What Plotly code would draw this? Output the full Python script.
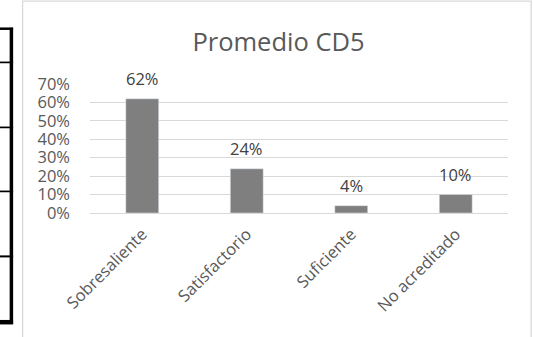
import plotly.graph_objects as go

categories = ["Sobresaliente", "Satisfactorio", "Suficiente", "No acreditado"]
values = [0.62, 0.24, 0.04, 0.10]
labels = ["62%", "24%", "4%", "10%"]
title_text = "Promedio CD5"

W, H = 533, 337
L, R, T, B = 90, 533 - 508.5, 84.3, 337 - 213.3
pw, ph = W - L - R, H - T - B

def px(x):
    return (x - L) / pw

def py(y):
    return (H - B - y) / ph

fig = go.Figure(go.Bar(x=categories, y=values, marker_color="#7f7f7f", cliponaxis=False))

for c, v, t in zip(categories, values, labels):
    fig.add_annotation(x=c, y=v, text=t, showarrow=False, yanchor="middle", yshift=20.5,
                       font=dict(family="Open Sans", size=16.5, color="#404040"))

shapes = []
# chart border
shapes.append(dict(type="rect", xref="paper", yref="paper",
                   x0=px(22.5), x1=px(531.7), y0=py(1.5), y1=py(345),
                   line=dict(color="#d9d9d9", width=1.3), layer="below"))
# table fragment at left
shapes.append(dict(type="line", xref="paper", yref="paper",
                   x0=px(11.3), x1=px(11.3), y0=py(28), y1=py(324),
                   line=dict(color="black", width=3.5)))
for yy, w in [(29, 2.5), (62.7, 1.7), (127.7, 1.7), (191.7, 1.7), (256.7, 2), (322.5, 4.5)]:
    shapes.append(dict(type="line", xref="paper", yref="paper",
                       x0=px(-2), x1=px(13), y0=py(yy), y1=py(yy),
                       line=dict(color="black", width=w)))

fig.update_layout(
    width=W, height=H, autosize=False,
    margin=dict(l=L, r=R, t=T, b=B, pad=0),
    paper_bgcolor="white", plot_bgcolor="white",
    bargap=0.685,
    showlegend=False,
    title=dict(text=title_text, x=278.5 / W, xanchor="center", y=1 - 42 / H, yanchor="middle",
               font=dict(family="Open Sans", size=25.5, color="#595959")),
    font=dict(family="Open Sans", color="#595959"),
    shapes=shapes,
    xaxis=dict(tickangle=-45, showline=True, linecolor="#d9d9d9", linewidth=1.3,
               showgrid=False, ticks="", ticklabelstandoff=4,
               tickfont=dict(family="Open Sans", size=16.5, color="#595959")),
    yaxis=dict(range=[0, 0.7], dtick=0.1, tickformat=".0%", showgrid=True,
               gridcolor="#d9d9d9", gridwidth=1.3, zeroline=False, ticks="",
               ticklabelstandoff=19,
               tickfont=dict(family="Open Sans", size=16.5, color="#595959")),
)

fig.write_html("out.html")
